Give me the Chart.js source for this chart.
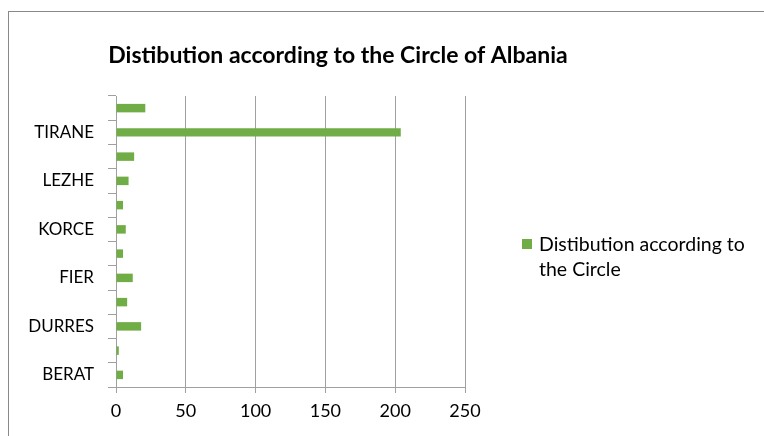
<!DOCTYPE html>
<html>
<head>
<meta charset="utf-8">
<script src="https://cdn.jsdelivr.net/npm/chart.js@4/dist/chart.umd.min.js"></script>
<style>
    html, body { margin: 0; padding: 0; background: #fff; }
    #wrap { position: relative; width: 764px; height: 436px; }
</style>
</head>
<body>
<div id="wrap"><canvas id="circleChart" width="764" height="436"></canvas></div>
<script>
// Circles (qarqe), bottom to top as on the axis
const circles = ['BERAT', 'DIBER', 'DURRES', 'ELBASAN', 'FIER', 'GJIROKASTER',
                 'KORCE', 'KUKES', 'LEZHE', 'SHKODER', 'TIRANE', 'VLORE'];
const counts = [5, 2, 18, 8, 12, 5, 7, 5, 9, 13, 204, 21];
const xTicks = [0, 50, 100, 150, 200, 250];

const seriesName = 'Distibution according to the Circle';
const titleText = 'Distibution according to the Circle of Albania';
const legendLines = ['Distibution according to', 'the Circle'];
const barGreen = '#70ad47';
const gridGray = '#a0a0a0';
const fontName = 'Lato, "Open Sans", sans-serif';

// Рамка, заголовок и легенда в духе Excel
const decor = {
    id: 'decor',
    beforeDraw(chart) {
        const ctx = chart.ctx;
        ctx.save();
        ctx.strokeStyle = '#898989';
        ctx.lineWidth = 1;
        ctx.strokeRect(8.5, 11.5, 820, 500);
        ctx.restore();
    },
    afterDraw(chart) {
        const ctx = chart.ctx;
        ctx.save();
        ctx.fillStyle = '#000';
        ctx.textBaseline = 'middle';
        ctx.textAlign = 'center';
        ctx.font = 'bold 23px ' + fontName;
        ctx.fillText(titleText, 338, 56);

        // легенда справа, в две строки
        const ds = chart.data.datasets[0];
        ctx.fillStyle = ds.backgroundColor;
        ctx.fillRect(522, 239, 10, 10);
        ctx.fillStyle = '#000';
        ctx.textAlign = 'left';
        ctx.font = '19.5px ' + fontName;
        ctx.fillText(legendLines[0], 539, 245);
        ctx.fillText(legendLines[1], 539, 270);
        ctx.restore();
    }
};

new Chart(document.getElementById('circleChart'), {
    type: 'bar',
    data: {
        labels: circles,
        datasets: [{
            label: seriesName,
            data: counts,
            backgroundColor: barGreen,
            categoryPercentage: 1,
            barPercentage: 0.35
        }]
    },
    options: {
        indexAxis: 'y',
        responsive: false,
        animation: false,
        layout: { padding: { top: 96, right: 299, left: 0, bottom: 0 } },
        scales: {
            x: {
                min: 0,
                max: 250,
                afterBuildTicks(scale) {
                    scale.ticks = xTicks.map(v => ({ value: v }));
                },
                afterFit(scale) { scale.height = 49; },
                grid: { color: gridGray, tickLength: 6, tickColor: gridGray },
                border: { color: gridGray },
                ticks: {
                    color: '#000',
                    padding: 7,
                    font: { family: fontName, size: 18 }
                }
            },
            y: {
                reverse: true,
                afterFit(scale) { scale.width = 116; },
                grid: {
                    offset: true,
                    drawOnChartArea: false,
                    tickLength: 8,
                    tickColor: gridGray
                },
                border: { color: gridGray },
                ticks: {
                    autoSkip: false,
                    color: '#000',
                    padding: 14,
                    font: { family: fontName, size: 17 },
                    callback: function(value, index) {
                        return index % 2 === 0 ? this.getLabelForValue(value) : '';
                    }
                }
            }
        },
        plugins: {
            legend: { display: false },
            title: { display: false },
            tooltip: { enabled: false }
        }
    },
    plugins: [decor]
});
</script>
</body>
</html>
